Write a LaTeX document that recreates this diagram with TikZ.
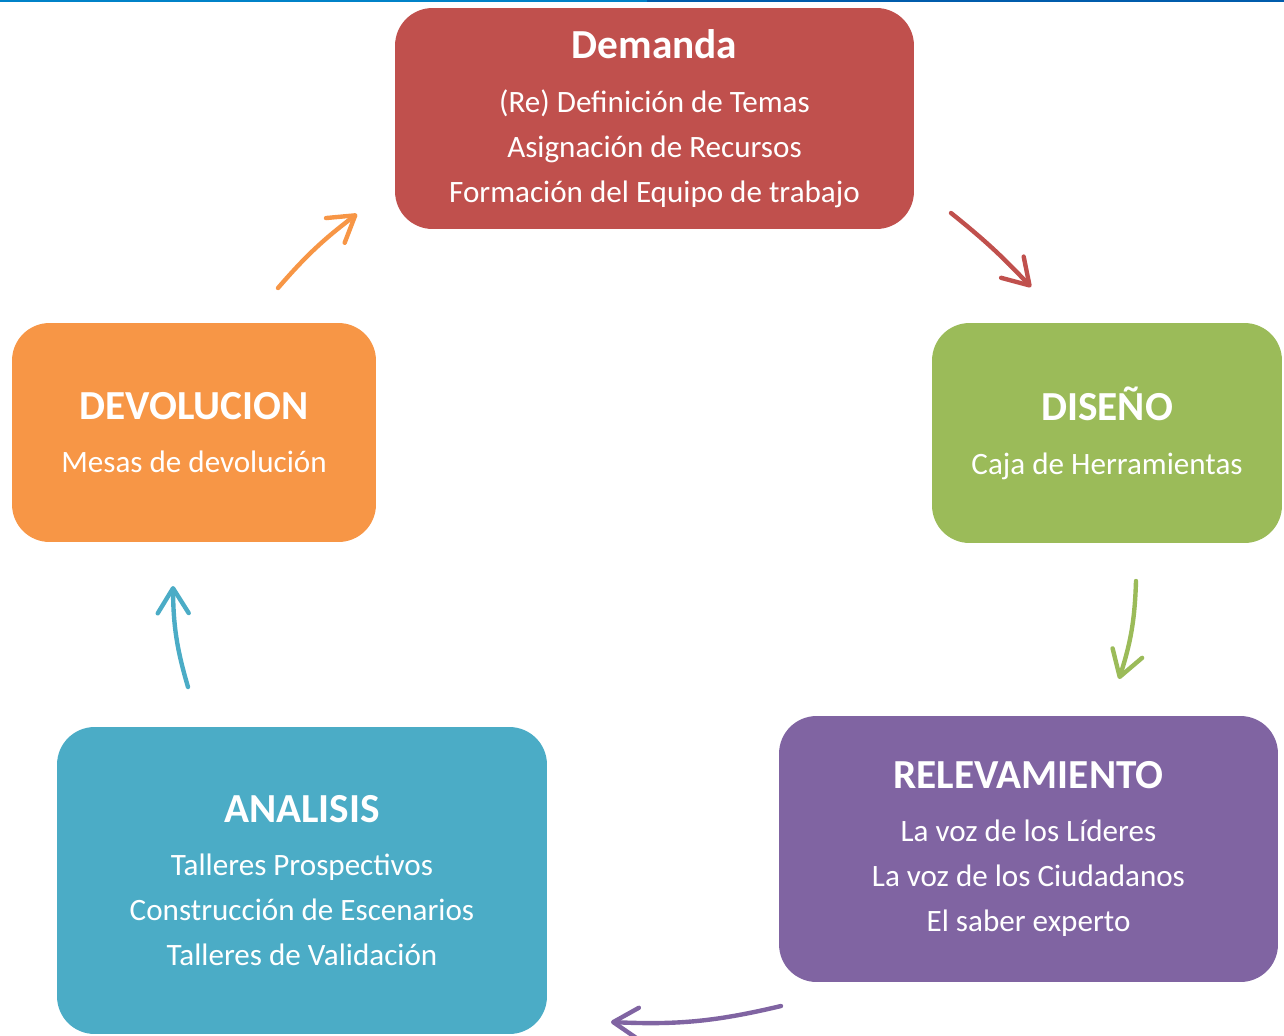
\documentclass[tikz,border=0pt]{standalone}
\usepackage{fontspec}
\setmainfont{Carlito}
\usetikzlibrary{arrows.meta}
\definecolor{demred}{HTML}{C0504D}
\definecolor{disgreen}{HTML}{9BBB59}
\definecolor{relpurple}{HTML}{8064A2}
\definecolor{anablue}{HTML}{4BACC6}
\definecolor{devorange}{HTML}{F79646}
\definecolor{topblueA}{RGB}{0,130,200}
\definecolor{topblueB}{RGB}{0,92,172}
\newcommand{\stagetitle}[1]{{\fontsize{23.5}{26}\selectfont\bfseries #1}\\[5pt]}
\begin{document}
\begin{tikzpicture}[
        x=0.02cm, y=-0.02cm,
        stagebox/.style={
            rectangle,
            rounded corners=0.75cm,
            align=center,
            text=white,
            inner sep=0pt,
            font=\fontsize{17.7}{25.6}\selectfont
        },
        cycle/.style={
            line width=2.5pt,
            line cap=round,
            -{Straight Barb[length=0.5cm, width=0.62cm, line cap=round, line join=round]}
        }
    ]
        \useasboundingbox (0,0) rectangle (1284,1035);
        % Top rule
        \fill[topblueA] (0,0) rectangle (647,2);
        \fill[topblueB] (647,0) rectangle (1284,2);

        % Stage boxes
        \node[stagebox, fill=demred, minimum width=10.38cm, minimum height=4.42cm] (demanda) at (654.5,118.5)
            {\stagetitle{Demanda}(Re) Definición de Temas\\Asignación de Recursos\\Formación del Equipo de trabajo};
        \node[stagebox, fill=disgreen, minimum width=7cm, minimum height=4.4cm] (diseno) at (1107,433)
            {\stagetitle{DISEÑO}Caja de Herramientas};
        \node[stagebox, fill=relpurple, minimum width=9.98cm, minimum height=5.32cm] (relevamiento) at (1028.5,849)
            {\stagetitle{RELEVAMIENTO}La voz de los Líderes\\La voz de los Ciudadanos\\El saber experto};
        \node[stagebox, fill=anablue, minimum width=9.8cm, minimum height=6.14cm] (analisis) at (302,880.5)
            {\stagetitle{ANALISIS}Talleres Prospectivos\\Construcción de Escenarios\\Talleres de Validación};
        \node[stagebox, fill=devorange, minimum width=7.28cm, minimum height=4.38cm] (devolucion) at (194,432.5)
            {\stagetitle{DEVOLUCION}Mesas de devolución};

        % Arrow end points
        \coordinate (demStart) at (951,213);
        \coordinate (demEnd) at (1031,287);
        \coordinate (disStart) at (1136,581);
        \coordinate (disEnd) at (1119,679);
        \coordinate (relStart) at (781,1006);
        \coordinate (relEnd) at (611,1022);
        \coordinate (anaStart) at (188,687);
        \coordinate (anaEnd) at (173,586);
        \coordinate (devStart) at (278,288);
        \coordinate (devEnd) at (357,214);

        % Cycle arrows
        \draw[cycle, demred] (demStart) to[bend left=4] (demEnd);
        \draw[cycle, disgreen] (disStart) to[bend left=8] (disEnd);
        \draw[cycle, relpurple] (relStart) to[bend left=8] (relEnd);
        \draw[cycle, anablue] (anaStart) to[bend left=8] (anaEnd);
        \draw[cycle, devorange] (devStart) to[bend left=6] (devEnd);
    \end{tikzpicture}
\end{document}
